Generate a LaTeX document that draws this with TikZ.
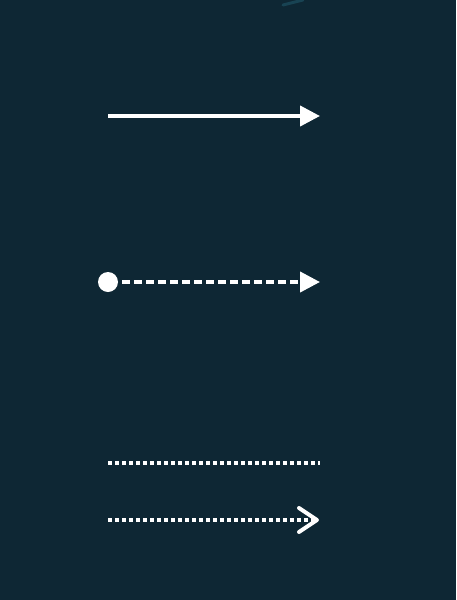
\documentclass[tikz,border=0pt]{standalone}
\usepackage{tikz}
\usetikzlibrary{arrows.meta,positioning}
\definecolor{bgdark}{RGB}{14,39,52}
\definecolor{glow}{RGB}{40,110,130}

\begin{document}
\begin{tikzpicture}[x=1pt,y=-1pt,
  solidarrow/.style={white,line width=4pt,-{Triangle[length=20pt,width=20pt]}},
  dasharrow/.style={white,line width=4pt,dash pattern=on 8pt off 4pt,-{Triangle[length=20pt,width=20pt]}},
  dotline/.style={white,line width=3.5pt,dash pattern=on 3.5pt off 3.5pt},
  dotarrow/.style={dotline,-{Straight Barb[length=18pt,width=24pt,line width=4pt,round]}},
  startdot/.style={circle,fill=white,inner sep=0pt,minimum size=20pt}]
\fill[bgdark] (0,0) rectangle (456,600);
\useasboundingbox (0,0) rectangle (456,600);
% faint streak at the top edge
\coordinate (g1) at (283,5);
\coordinate (g2) at (303,0);
\draw[glow,line width=3pt,opacity=0.4,line cap=round] (g1) -- (g2);
% solid arrow
\coordinate (a1) at (108,116);
\coordinate (b1) at (320,116);
\draw[solidarrow] (a1) -- (b1);
% dashed arrow from a dot
\node[startdot] (d2) at (108,282) {};
\coordinate (b2) at (320,282);
\draw[dasharrow,shorten <=4pt] (d2.east) -- (b2);
% dotted line
\coordinate (a3) at (108,463);
\coordinate (b3) at (320,463);
\draw[dotline] (a3) -- (b3);
% dotted arrow
\coordinate (a4) at (108,520);
\coordinate (b4) at (319,520);
\draw[dotarrow] (a4) -- (b4);
\end{tikzpicture}
\end{document}
